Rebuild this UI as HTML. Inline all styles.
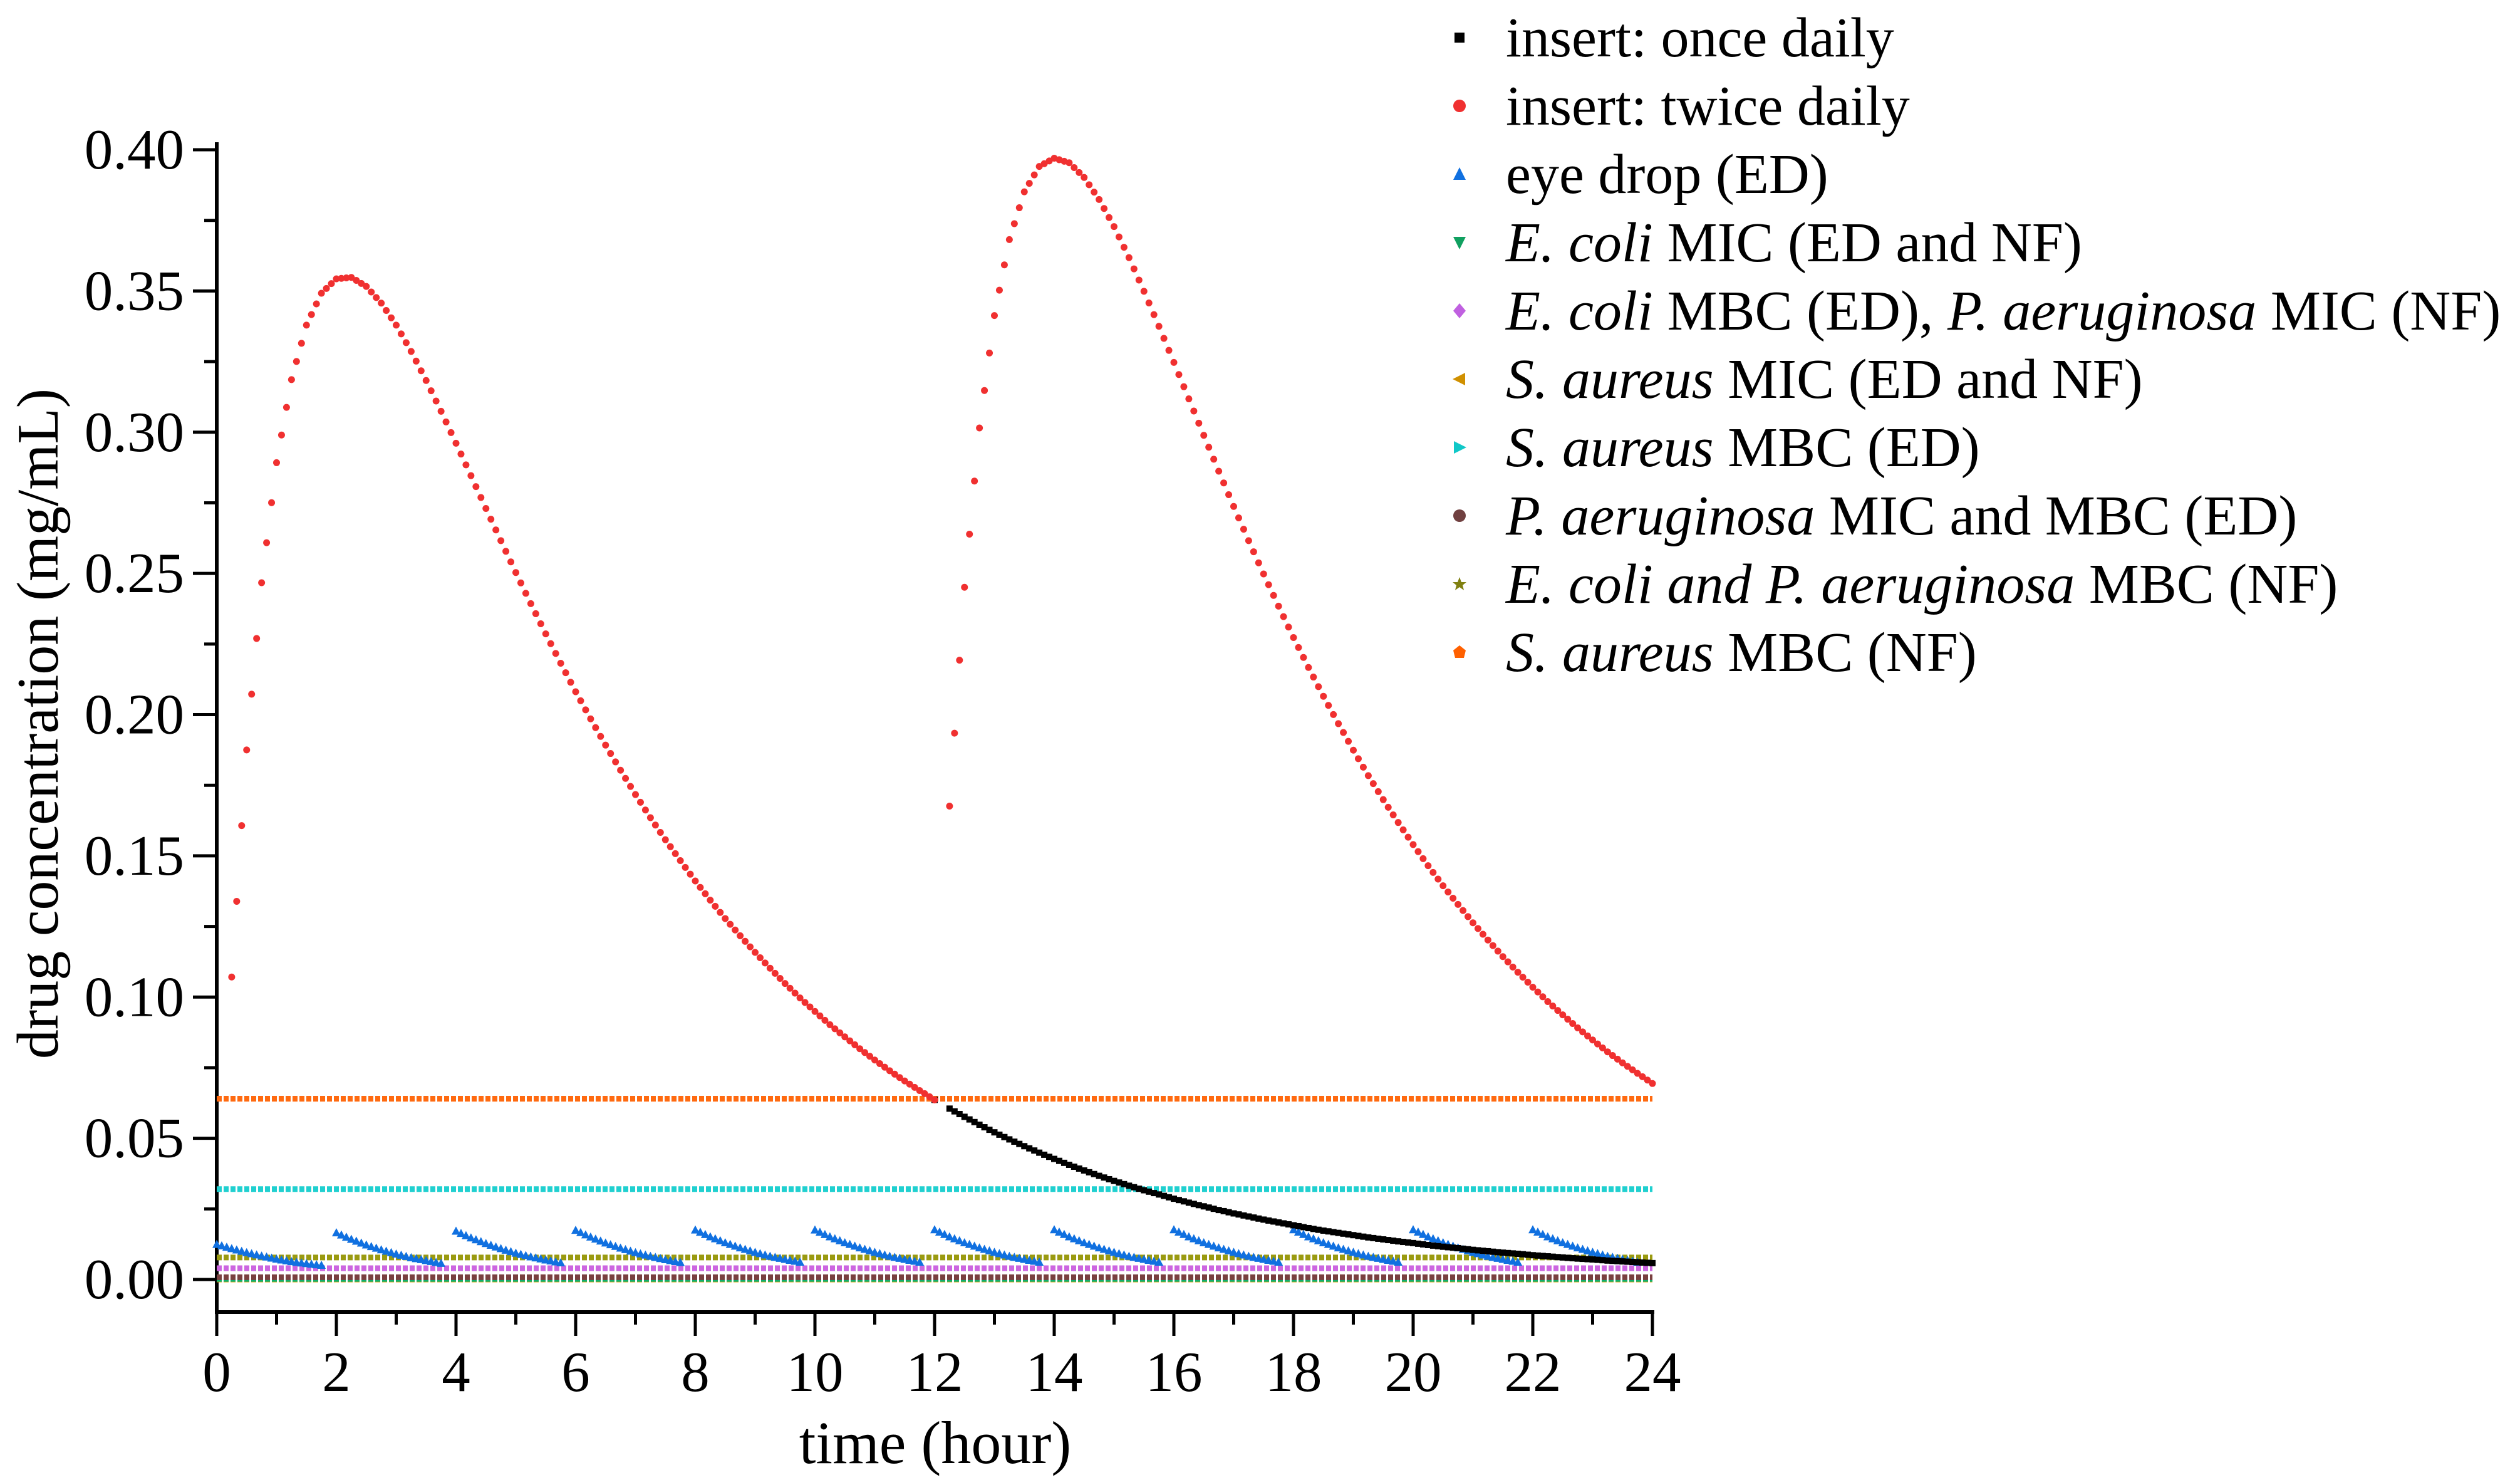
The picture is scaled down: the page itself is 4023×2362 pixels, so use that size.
<!DOCTYPE html>
<html><head><meta charset="utf-8"><style>
html,body{margin:0;padding:0;background:#fff;}
svg{display:block;font-family:"Liberation Serif",serif;}
</style></head><body>
<svg id="chart" width="4023" height="2362" viewBox="0 0 4023 2362" xmlns="http://www.w3.org/2000/svg">
<g id="axes"></g>
<g id="plot"></g>
<g id="legend"></g>
<text x="1493" y="2335" font-size="96" text-anchor="middle">time (hour)</text>
<text transform="translate(92,1155) rotate(-90)" font-size="94" text-anchor="middle">drug concentration (mg/mL)</text>
</svg>
<script>
const timeStep = 0.25;
const onceDaily = [0,.1071,.1875,.2467,.2892,.3186,.3379,.3492,.3543,.3548,.3516,.3457,.3379,.3286,.3183,.3074,.2961,.2846,.2730,.2616,.2503,.2393,.2286,.2182,.2081,.1985,.1892,.1803,.1717,.1635,.1557,.1483,.1411,.1343,.1278,.1217,.1158,.1102,.1048,.0997,.0949,.0902,.0859,.0817,.0777,.0739,.0703,.0669,.0636,.0605,.0576,.0548,.0521,.0496,.0472,.0449,.0427,.0406,.0386,.0367,.0349,.0332,.0316,.0301,.0286,.0272,.0259,.0246,.0234,.0223,.0212,.0202,.0192,.0182,.0173,.0165,.0157,.0149,.0142,.0135,.0129,.0122,.0116,.0111,.0105,.0100,.0095,.0091,.0086,.0082,.0078,.0074,.0071,.0067,.0064,.0061,.0058];
const twiceDaily = [0,.1071,.1875,.2467,.2892,.3186,.3379,.3492,.3543,.3548,.3516,.3457,.3379,.3286,.3183,.3074,.2961,.2846,.2730,.2616,.2503,.2393,.2286,.2182,.2081,.1985,.1892,.1803,.1717,.1635,.1557,.1483,.1411,.1343,.1278,.1217,.1158,.1102,.1048,.0997,.0949,.0902,.0859,.0817,.0777,.0739,.0703,.0669,.0636,.1676,.2451,.3015,.3413,.3682,.3851,.3941,.3970,.3954,.3902,.3824,.3728,.3618,.3499,.3375,.3247,.3118,.2989,.2862,.2737,.2616,.2498,.2384,.2273,.2167,.2065,.1968,.1874,.1784,.1699,.1618,.1540,.1465,.1394,.1328,.1263,.1202,.1143,.1088,.1035,.0984,.0937,.0891,.0848,.0806,.0767,.0730,.0694];
const eyeDropDoseTimes = [0,2,4,6,8,10,12,14,16,18,20,22];
const eyeDropSegments = [
 [.0125,.0110,.0096,.0084,.0073,.0064,.0057,.0051],
 [.0166,.0143,.0123,.0106,.0091,.0078,.0068,.0058],
 [.0172,.0148,.0128,.0110,.0094,.0081,.0070,.0060],
 [.0175,.0151,.0130,.0112,.0096,.0083,.0071,.0061],
 [.0176,.0152,.0131,.0113,.0097,.0083,.0072,.0062],
 [.0176,.0152,.0131,.0113,.0097,.0083,.0072,.0062],
 [.0177,.0152,.0131,.0113,.0097,.0083,.0072,.0062],
 [.0177,.0152,.0131,.0113,.0097,.0083,.0072,.0062],
 [.0177,.0152,.0131,.0113,.0097,.0083,.0072,.0062],
 [.0177,.0152,.0131,.0113,.0097,.0083,.0072,.0062],
 [.0177,.0152,.0131,.0113,.0097,.0083,.0072,.0062],
 [.0177,.0152,.0131,.0113,.0097,.0083,.0072,.0062]];
const thresholdNames = ["s-aureus-mic","e-coli-mic","p-aeruginosa-ed","e-coli-mbc-ed","e-coli-p-aeruginosa-mbc-nf","s-aureus-mbc-ed","s-aureus-mbc-nf"];
const thresholdValues = [0.0000,0.0002,0.0008,0.0040,0.0078,0.032,0.064];
const thresholdColors = ["#d9a000","#10b070","#7a4040","#cc66e0","#9a9a10","#20d0d0","#ff6a10"];
const yTicks = [0,0.05,0.10,0.15,0.20,0.25,0.30,0.35,0.40];
const yTickLabels = ["0.00","0.05","0.10","0.15","0.20","0.25","0.30","0.35","0.40"];
const xTicks = [0,2,4,6,8,10,12,14,16,18,20,22,24];
const legendLabels = [
 ['insert: once daily'],
 ['insert: twice daily'],
 ['eye drop (ED)'],
 ['<tspan font-style="italic">E. coli</tspan> MIC (ED and NF)'],
 ['<tspan font-style="italic">E. coli</tspan> MBC (ED), <tspan font-style="italic">P. aeruginosa</tspan> MIC (NF)'],
 ['<tspan font-style="italic">S. aureus</tspan> MIC (ED and NF)'],
 ['<tspan font-style="italic">S. aureus</tspan>  MBC (ED)'],
 ['<tspan font-style="italic">P. aeruginosa</tspan> MIC and MBC (ED)'],
 ['<tspan font-style="italic">E. coli and P. aeruginosa</tspan> MBC (NF)'],
 ['<tspan font-style="italic">S. aureus</tspan> MBC (NF)']];
const legendColors = ["#000","#f03030","#1070e0","#10a060","#c060e0","#d09000","#10c8c8","#704040","#808010","#ff6000"];
const legendShapes = ["square","circle","tri-up","tri-down","diamond","tri-left","tri-right","circle","star","pentagon"];

const NS="http://www.w3.org/2000/svg";
const X0=346,X1=2638,Y0=2042,YTOP=239,AXB=2094;
const xs=t=>X0+t*(X1-X0)/24;
const ys=v=>Y0-v*(Y0-YTOP)/0.4;
function mk(tag,attrs,parent){const e=document.createElementNS(NS,tag);for(const k in attrs)e.setAttribute(k,attrs[k]);parent.appendChild(e);return e;}
const axes=document.getElementById('axes'),plot=document.getElementById('plot'),legend=document.getElementById('legend');

let yl=mk('line',{x1:X0,y1:YTOP-12,x2:X0,y2:AXB+3,stroke:'#000','stroke-width':6},axes);


let xl=mk('line',{x1:X0-3,y1:AXB,x2:X1+3,y2:AXB,stroke:'#000','stroke-width':6},axes);


yTicks.forEach((v,i)=>{
  const tk=mk('line',{x1:X0-38,y1:ys(v),x2:X0,y2:ys(v),stroke:'#000','stroke-width':5},axes);
  
  
  if(i<yTicks.length-1){const m=mk('line',{x1:X0-20,y1:ys(v+0.025),x2:X0,y2:ys(v+0.025),stroke:'#000','stroke-width':5},axes);
  
  }
  const lb=mk('text',{x:X0-52,y:ys(v)+30,'font-size':91,'text-anchor':'end'},axes);lb.textContent=yTickLabels[i];
  
  
});
xTicks.forEach((t,i)=>{
  const tk=mk('line',{x1:xs(t),y1:AXB,x2:xs(t),y2:AXB+38,stroke:'#000','stroke-width':5},axes);
  
  
  if(i<xTicks.length-1){const m=mk('line',{x1:xs(t+1),y1:AXB,x2:xs(t+1),y2:AXB+20,stroke:'#000','stroke-width':5},axes);
  
  }
  const lb=mk('text',{x:xs(t),y:2220,'font-size':91,'text-anchor':'middle'},axes);lb.textContent=String(t);
  
  
});

thresholdValues.forEach((v,i)=>{
  const l=mk('line',{x1:xs(0),y1:ys(v),x2:xs(24),y2:ys(v),stroke:thresholdColors[i],'stroke-width':9,'stroke-dasharray':'8 3'},plot);
  
  
});
eyeDropSegments.forEach((seg,s)=>{
  seg.forEach((v,j)=>{
    const t=eyeDropDoseTimes[s]+j*timeStep;
    for(let h=0;h<3;h++){
      if(j===seg.length-1&&h>0)break;
      const tt=t+h*timeStep/3;
      const vv= j<seg.length-1 ? v+(seg[j+1]-v)*h/3 : v;
      const px=xs(tt),py=ys(vv);
      const p=mk('polygon',{points:`${px},${py-7} ${px-7},${py+6} ${px+7},${py+6}`,fill:'#1070e0'},plot);
      
      
    }
  });
});
onceDaily.forEach((v,k)=>{
  if(v===twiceDaily[k] || v<=0) return; // hidden beneath twice-daily marks
  const t=k*timeStep;
  for(let h=0;h<3;h++){
    if(k===onceDaily.length-1&&h>0)break;
    const vv= k<onceDaily.length-1 ? v+(onceDaily[k+1]-v)*h/3 : v;
    const r=mk('rect',{x:xs(t+h*timeStep/3)-5,y:ys(vv)-5,width:10,height:10,fill:'#000'},plot);
    
    
  }
});
const startMark=mk('rect',{x:xs(12)-5,y:ys(onceDaily[48])-5,width:10,height:10,fill:'#000'},plot);


twiceDaily.forEach((v,k)=>{
  const t=k*timeStep;
  if(v<=0)return;
  const c=mk('circle',{cx:xs(t),cy:ys(v),r:5.5,fill:'#f03030'},plot);
  
  
  if(k<twiceDaily.length-1 && twiceDaily[k+1]>=v*0.6 && !(twiceDaily[k+1]>v*2)){
    for(let h=1;h<3;h++){
      const vv=v+(twiceDaily[k+1]-v)*h/3;
      const c2=mk('circle',{cx:xs(t+h*timeStep/3),cy:ys(vv),r:5.5,fill:'#f03030'},plot);
      
      
    }
  }
});

function marker(shape,x,y,col){
  const s=16;
  if(shape==='square')return mk('rect',{x:x-s/2,y:y-s/2,width:s,height:s,fill:col},legend);
  if(shape==='circle')return mk('circle',{cx:x,cy:y,r:10,fill:col},legend);
  if(shape==='tri-up')return mk('polygon',{points:`${x},${y-11} ${x-10},${y+9} ${x+10},${y+9}`,fill:col},legend);
  if(shape==='tri-down')return mk('polygon',{points:`${x},${y+11} ${x-10},${y-9} ${x+10},${y-9}`,fill:col},legend);
  if(shape==='tri-left')return mk('polygon',{points:`${x-11},${y} ${x+9},${y-10} ${x+9},${y+10}`,fill:col},legend);
  if(shape==='tri-right')return mk('polygon',{points:`${x+11},${y} ${x-9},${y-10} ${x-9},${y+10}`,fill:col},legend);
  if(shape==='diamond')return mk('polygon',{points:`${x},${y-12} ${x+10},${y} ${x},${y+12} ${x-10},${y}`,fill:col},legend);
  if(shape==='star')return mk('polygon',{points:`${x},${y-11} ${x+3},${y-3} ${x+11},${y-3} ${x+5},${y+2} ${x+7},${y+10} ${x},${y+5} ${x-7},${y+10} ${x-5},${y+2} ${x-11},${y-3} ${x-3},${y-3}`,fill:col},legend);
  return mk('polygon',{points:`${x},${y-11} ${x+10},${y-3} ${x+7},${y+9} ${x-7},${y+9} ${x-10},${y-3}`,fill:col},legend);
}
legendLabels.forEach((lab,i)=>{
  const cy=60+i*109;
  const g=mk('g',{},legend);
  
  
  const m=marker(legendShapes[i],2330,cy,legendColors[i]);
  
  
  g.appendChild(m);
  const t=mk('text',{x:2404,y:cy+30,'font-size':90},g);
  t.innerHTML=lab[0];
  
  
});
</script>
</body></html>
